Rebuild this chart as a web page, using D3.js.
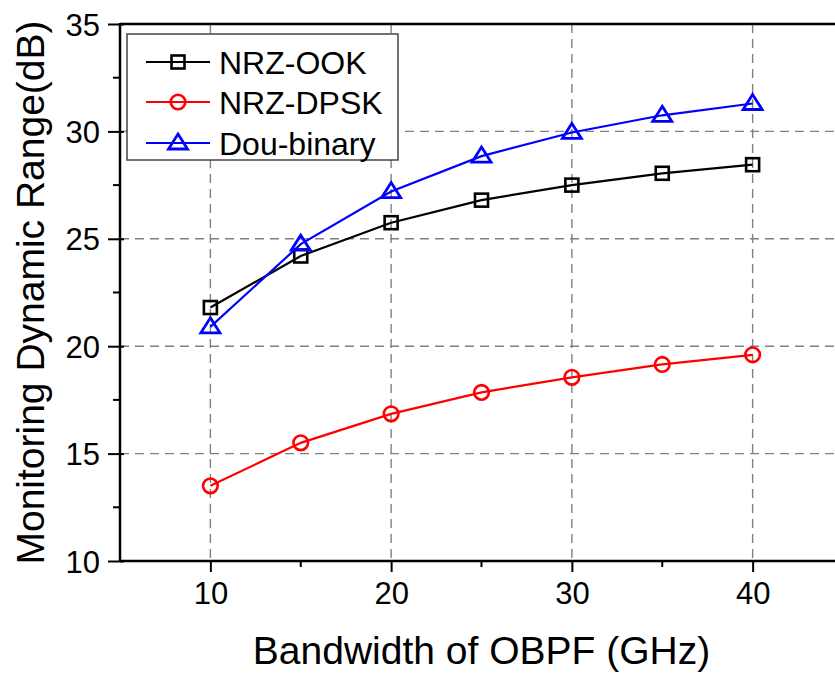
<!DOCTYPE html>
<html>
<head>
<meta charset="utf-8">
<script src="https://cdn.jsdelivr.net/npm/d3@7"></script>
<style>
  html, body { margin: 0; padding: 0; background: #fff; overflow: hidden; }
  text { font-family: Arial, "Liberation Sans", sans-serif; fill: #000; }
</style>
</head>
<body>
<svg id="chart" width="835" height="673"></svg>
<script>
// ---- data ----
const bandwidths = [10, 15, 20, 25, 30, 35, 40];
const nrzOok    = [21.8, 24.2, 25.75, 26.8, 27.5, 28.05, 28.45];
const nrzDpsk   = [13.5, 15.5, 16.85, 17.85, 18.55, 19.15, 19.6];
const douBinary = [20.9, 24.75, 27.2, 28.85, 29.95, 30.75, 31.3];
const seriesNames = ["NRZ-OOK", "NRZ-DPSK", "Dou-binary"];
const xTicks = [10, 20, 30, 40];
const yTicks = [10, 15, 20, 25, 30, 35];
const xTitle = "Bandwidth of OBPF (GHz)";
const yTitle = "Monitoring Dynamic Range(dB)";

(function () {
const series = [
  { name: seriesNames[0], values: nrzOok, color: "#000000", marker: "square" },
  { name: seriesNames[1], values: nrzDpsk, color: "#ff0000", marker: "circle" },
  { name: seriesNames[2], values: douBinary, color: "#0000ff", marker: "triangle" }
];

const svg = d3.select("#chart");
const pL = 120, pR = 843, pT = 24, pB = 561;
const x = d3.scaleLinear().domain([5, 45]).range([pL, pR]);
const y = d3.scaleLinear().domain([10, 35]).range([pB, pT]);

// grid
const grid = svg.append("g").attr("stroke", "#808080").attr("stroke-width", 1.4)
  .attr("stroke-dasharray", "9,6");
grid.selectAll(".gx").data(xTicks).join("line")
  .attr("x1", d => x(d)).attr("x2", d => x(d)).attr("y1", pT).attr("y2", pB);
grid.selectAll(".gy").data(yTicks.filter(d => d > 10 && d < 35)).join("line")
  .attr("x1", pL).attr("x2", pR).attr("y1", d => y(d)).attr("y2", d => y(d));

// axes
const xAxis = d3.axisBottom(x).tickValues(xTicks).tickSize(11).tickPadding(10)
  .tickFormat(d3.format("d"));
const gx = svg.append("g").attr("transform", `translate(0,${pB})`).call(xAxis);
gx.select(".domain").remove();
gx.selectAll("line").attr("stroke", "#000").attr("stroke-width", 2);
gx.selectAll("text").attr("font-size", 31).attr("font-family", "Arial, 'Liberation Sans', sans-serif");
// minor x ticks
svg.append("g").selectAll("line").data([15, 25, 35]).join("line")
  .attr("x1", d => x(d)).attr("x2", d => x(d)).attr("y1", pB).attr("y2", pB + 6)
  .attr("stroke", "#000").attr("stroke-width", 2);

const yAxis = d3.axisLeft(y).tickValues(yTicks).tickSize(12).tickPadding(8)
  .tickFormat(d3.format("d"));
const gy = svg.append("g").attr("transform", `translate(${pL},0)`).call(yAxis);
gy.select(".domain").remove();
gy.selectAll("line").attr("stroke", "#000").attr("stroke-width", 2).attr("x2", -12).attr("x1", 4);
gy.selectAll("text").attr("font-size", 31).attr("font-family", "Arial, 'Liberation Sans', sans-serif")
  .attr("dy", "0.36em");
// minor y ticks
svg.append("g").selectAll("line").data([12.5, 17.5, 22.5, 27.5, 32.5]).join("line")
  .attr("x1", pL - 7).attr("x2", pL).attr("y1", d => y(d)).attr("y2", d => y(d))
  .attr("stroke", "#000").attr("stroke-width", 2);

// frame lines
svg.append("line").attr("x1", pL).attr("x2", pR).attr("y1", pT).attr("y2", pT)
  .attr("stroke", "#000").attr("stroke-width", 2.5);
svg.append("line").attr("x1", pL).attr("x2", pR).attr("y1", pB).attr("y2", pB)
  .attr("stroke", "#000").attr("stroke-width", 2.5);
svg.append("line").attr("x1", pL).attr("x2", pL).attr("y1", pT - 1).attr("y2", pB + 1)
  .attr("stroke", "#000").attr("stroke-width", 2.5);

// markers
function drawMarker(g, type, cx, cy, color) {
  if (type === "square") {
    g.append("rect").attr("x", cx - 6.5).attr("y", cy - 6.5).attr("width", 13).attr("height", 13)
      .attr("fill", "none").attr("stroke", color).attr("stroke-width", 2.6);
  } else if (type === "circle") {
    g.append("circle").attr("cx", cx).attr("cy", cy).attr("r", 7.3)
      .attr("fill", "none").attr("stroke", color).attr("stroke-width", 2.6);
  } else {
    const h = 15, w = 19;
    g.append("path")
      .attr("d", `M${cx},${cy - h * 0.6}L${cx + w / 2},${cy + h * 0.4}L${cx - w / 2},${cy + h * 0.4}Z`)
      .attr("fill", "none").attr("stroke", color).attr("stroke-width", 2.8)
      .attr("stroke-linejoin", "miter");
  }
}

const line = d3.line().x(d => x(d[0])).y(d => y(d[1]));
series.forEach(s => {
  const pts = bandwidths.map((b, i) => [b, s.values[i]]);
  svg.append("path").datum(pts).attr("d", line).attr("fill", "none")
    .attr("stroke", s.color).attr("stroke-width", 2.2);
  const g = svg.append("g");
  pts.forEach(p => drawMarker(g, s.marker, x(p[0]), y(p[1]), s.color));
});

// legend
const lg = svg.append("g");
lg.append("rect").attr("x", 127).attr("y", 34).attr("width", 271).attr("height", 126)
  .attr("fill", "#fff").attr("stroke", "#444").attr("stroke-width", 1.5);
const legendY = [62, 102, 143];
series.forEach((s, i) => {
  const ly = legendY[i];
  lg.append("line").attr("x1", 146).attr("x2", 210).attr("y1", ly).attr("y2", ly)
    .attr("stroke", s.color).attr("stroke-width", 2.2);
  drawMarker(lg, s.marker, 178, ly, s.color);
  lg.append("text").attr("x", 219).attr("y", ly).attr("dy", "0.36em")
    .attr("font-size", 32).text(s.name);
});

// titles
svg.append("text").attr("x", (pL + pR) / 2).attr("y", 664).attr("text-anchor", "middle")
  .attr("font-size", 39).text(xTitle);
svg.append("text").attr("transform", `translate(44,${(pT + pB) / 2}) rotate(-90)`)
  .attr("text-anchor", "middle").attr("font-size", 39).text(yTitle);
})();
</script>
</body>
</html>
